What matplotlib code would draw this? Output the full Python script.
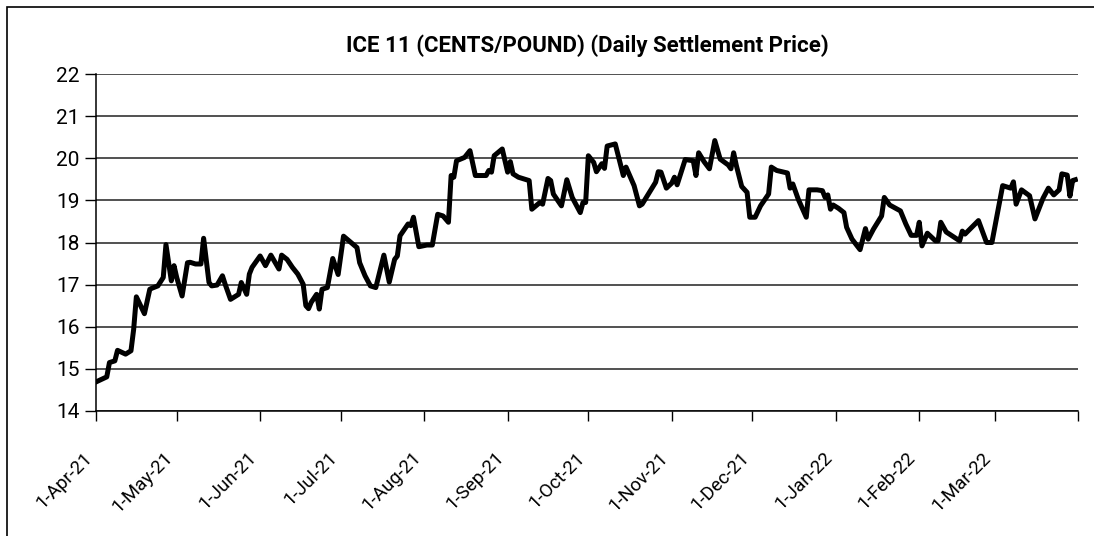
import matplotlib
matplotlib.use("Agg")
import matplotlib.pyplot as plt
import matplotlib.transforms as mtransforms
import pandas as pd
from matplotlib.patches import Rectangle

# daily settlement
dates = [
    "2021-04-01", "2021-04-05", "2021-04-06", "2021-04-08", "2021-04-09", "2021-04-12",
    "2021-04-14", "2021-04-15", "2021-04-16", "2021-04-19", "2021-04-21", "2021-04-22",
    "2021-04-24", "2021-04-26", "2021-04-27", "2021-04-29", "2021-04-30", "2021-05-01",
    "2021-05-03", "2021-05-05", "2021-05-06", "2021-05-08", "2021-05-10", "2021-05-11",
    "2021-05-13", "2021-05-14", "2021-05-16", "2021-05-18", "2021-05-19", "2021-05-21",
    "2021-05-24", "2021-05-25", "2021-05-27", "2021-05-28", "2021-05-29", "2021-06-01",
    "2021-06-03", "2021-06-05", "2021-06-08", "2021-06-09", "2021-06-11", "2021-06-13",
    "2021-06-15", "2021-06-17", "2021-06-18", "2021-06-19", "2021-06-20", "2021-06-22",
    "2021-06-23", "2021-06-24", "2021-06-26", "2021-06-28", "2021-06-30", "2021-07-02",
    "2021-07-07", "2021-07-08", "2021-07-10", "2021-07-12", "2021-07-14", "2021-07-17",
    "2021-07-19", "2021-07-21", "2021-07-22", "2021-07-23", "2021-07-26", "2021-07-27",
    "2021-07-28", "2021-07-30", "2021-08-02", "2021-08-04", "2021-08-06", "2021-08-08",
    "2021-08-10", "2021-08-11", "2021-08-12", "2021-08-13", "2021-08-16", "2021-08-18",
    "2021-08-20", "2021-08-24", "2021-08-25", "2021-08-26", "2021-08-27", "2021-08-30",
    "2021-09-01", "2021-09-02", "2021-09-03", "2021-09-05", "2021-09-09", "2021-09-10",
    "2021-09-13", "2021-09-14", "2021-09-16", "2021-09-17", "2021-09-18", "2021-09-21",
    "2021-09-23", "2021-09-25", "2021-09-28", "2021-09-29", "2021-09-30", "2021-10-01",
    "2021-10-03", "2021-10-04", "2021-10-06", "2021-10-07", "2021-10-08", "2021-10-11",
    "2021-10-14", "2021-10-15", "2021-10-18", "2021-10-20", "2021-10-21", "2021-10-26",
    "2021-10-27", "2021-10-28", "2021-10-30", "2021-11-01", "2021-11-02", "2021-11-03",
    "2021-11-06", "2021-11-09", "2021-11-10", "2021-11-11", "2021-11-13", "2021-11-15",
    "2021-11-17", "2021-11-19", "2021-11-22", "2021-11-23", "2021-11-24", "2021-11-25",
    "2021-11-27", "2021-11-29", "2021-11-30", "2021-12-02", "2021-12-04", "2021-12-07",
    "2021-12-08", "2021-12-10", "2021-12-14", "2021-12-15", "2021-12-16", "2021-12-18",
    "2021-12-21", "2021-12-22", "2021-12-25", "2021-12-27", "2021-12-28", "2021-12-29",
    "2021-12-30", "2021-12-31", "2022-01-02", "2022-01-04", "2022-01-05", "2022-01-07",
    "2022-01-10", "2022-01-12", "2022-01-13", "2022-01-15", "2022-01-18", "2022-01-19",
    "2022-01-21", "2022-01-25", "2022-01-27", "2022-01-29", "2022-01-31", "2022-02-01",
    "2022-02-02", "2022-02-04", "2022-02-07", "2022-02-08", "2022-02-09", "2022-02-11",
    "2022-02-16", "2022-02-17", "2022-02-18", "2022-02-23", "2022-02-26", "2022-02-28",
    "2022-03-04", "2022-03-07", "2022-03-08", "2022-03-09", "2022-03-11", "2022-03-14",
    "2022-03-16", "2022-03-19", "2022-03-21", "2022-03-23", "2022-03-25", "2022-03-26",
    "2022-03-28", "2022-03-29", "2022-03-30", "2022-03-31",
]
prices = [
    14.69, 14.81, 15.15, 15.19, 15.44, 15.35,
    15.43, 15.94, 16.71, 16.31, 16.89, 16.92,
    16.97, 17.17, 17.95, 17.09, 17.45, 17.17,
    16.73, 17.52, 17.53, 17.49, 17.49, 18.10,
    17.05, 16.97, 16.99, 17.21, 17.01, 16.65,
    16.77, 17.05, 16.77, 17.25, 17.41, 17.68,
    17.45, 17.70, 17.37, 17.70, 17.60, 17.41,
    17.25, 17.01, 16.50, 16.43, 16.58, 16.77,
    16.42, 16.89, 16.93, 17.62, 17.24, 18.15,
    17.88, 17.52, 17.21, 16.97, 16.93, 17.70,
    17.06, 17.60, 17.68, 18.16, 18.44, 18.40,
    18.60, 17.90, 17.94, 17.94, 18.67, 18.63,
    18.48, 19.59, 19.55, 19.94, 20.02, 20.18,
    19.59, 19.59, 19.71, 19.67, 20.06, 20.22,
    19.67, 19.92, 19.63, 19.55, 19.47, 18.79,
    18.95, 18.91, 19.52, 19.47, 19.15, 18.87,
    19.49, 19.07, 18.71, 18.95, 18.95, 20.06,
    19.90, 19.68, 19.87, 19.76, 20.29, 20.34,
    19.59, 19.79, 19.35, 18.87, 18.91, 19.43,
    19.68, 19.67, 19.29, 19.41, 19.55, 19.37,
    19.97, 19.94, 19.59, 20.13, 19.92, 19.75,
    20.42, 19.98, 19.84, 19.75, 20.13, 19.83,
    19.33, 19.19, 18.60, 18.60, 18.87, 19.15,
    19.79, 19.71, 19.65, 19.29, 19.39, 19.03,
    18.60, 19.25, 19.25, 19.23, 19.07, 19.13,
    18.79, 18.89, 18.81, 18.71, 18.36, 18.08,
    17.83, 18.33, 18.08, 18.32, 18.63, 19.07,
    18.89, 18.75, 18.44, 18.17, 18.17, 18.48,
    17.92, 18.22, 18.04, 18.04, 18.48, 18.25,
    18.04, 18.27, 18.20, 18.52, 18.00, 18.00,
    19.35, 19.29, 19.44, 18.91, 19.25, 19.11,
    18.56, 19.05, 19.29, 19.13, 19.25, 19.63,
    19.60, 19.10, 19.47, 19.49,
]

tick_dates = ["2021-04-01", "2021-05-01", "2021-06-01", "2021-07-01", "2021-08-01",
              "2021-09-01", "2021-10-01", "2021-11-01", "2021-12-01", "2022-01-01",
              "2022-02-01", "2022-03-01", "2022-04-01"]
tick_labels = ["1-Apr-21", "1-May-21", "1-Jun-21", "1-Jul-21", "1-Aug-21", "1-Sep-21",
               "1-Oct-21", "1-Nov-21", "1-Dec-21", "1-Jan-22", "1-Feb-22", "1-Mar-22", ""]
y_ticks = [14, 15, 16, 17, 18, 19, 20, 21, 22]

plt.rcParams['font.family'] = ['Roboto', 'DejaVu Sans']

fig = plt.figure(figsize=(10.94, 5.36), dpi=100)
ax = fig.add_axes([96 / 1094, 1 - 411 / 536, (1078 - 96) / 1094, (411 - 74) / 536])

x = pd.to_datetime(dates)
ax.plot(x, prices, color='black', lw=3.6, solid_joinstyle='round', zorder=3)

ax.set_xlim(pd.Timestamp("2021-04-01"), pd.Timestamp("2022-04-01"))
ax.set_ylim(14, 22)
ax.set_yticks(y_ticks)
ax.yaxis.grid(True, color='#222222', lw=1.1)
ax.set_axisbelow(True)

ax.set_xticks(pd.to_datetime(tick_dates))
ax.set_xticklabels(tick_labels, rotation=45, ha='right', va='top', fontsize=13.5)
offset = mtransforms.ScaledTranslation(5 / 100, 0, fig.dpi_scale_trans)
for lbl in ax.get_xticklabels():
    lbl.set_transform(lbl.get_transform() + offset)

ax.tick_params(axis='x', length=7, width=1, pad=20, colors='black')
ax.tick_params(axis='y', length=8, width=1, pad=4, labelsize=15)

for s in ['top', 'right']:
    ax.spines[s].set_visible(False)
for s in ['left', 'bottom']:
    ax.spines[s].set_color('black')
    ax.spines[s].set_linewidth(1.1)

fig.text(587 / 1094, 1 - 46 / 536, "ICE 11 (CENTS/POUND) (Daily Settlement Price)",
         ha='center', va='center', fontsize=16, fontweight='bold')

# outer frame, only the left and top edges fall inside the picture
fig.patches.append(Rectangle((7 / 1094, -0.1), 1.2, 1 - 7 / 536 + 0.1, fill=False,
                             edgecolor='black', lw=1.2, transform=fig.transFigure))

fig.savefig("out.png", dpi=100)
